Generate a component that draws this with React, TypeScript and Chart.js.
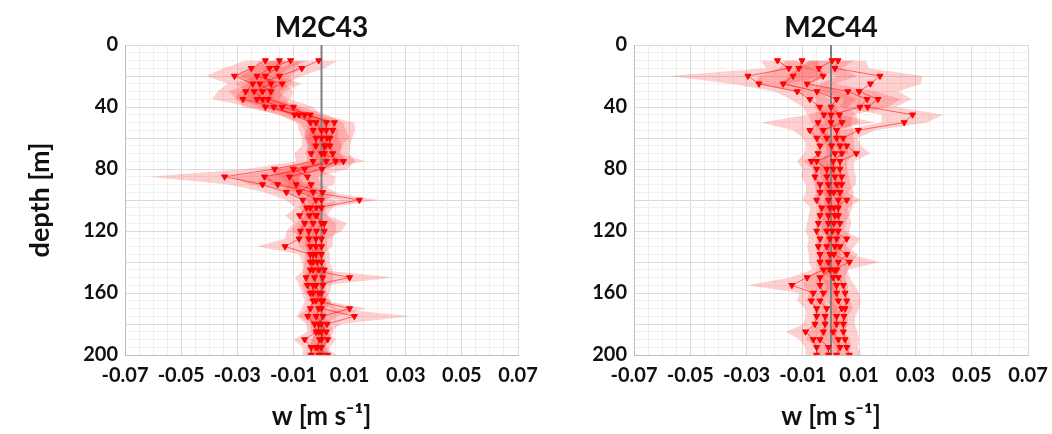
import React, { useEffect, useRef } from "react";
import { Chart, registerables } from "chart.js";

Chart.register(...registerables);

// ---------- data ----------
const DEPTHS = [10, 15, 20, 25, 30, 35, 40, 45, 50, 55, 60, 65, 70, 75, 80, 85, 90, 95, 100, 105, 110, 115, 120, 125, 130, 135, 140, 145, 150, 155, 160, 165, 170, 175, 180, 185, 190, 195, 200];

const X_TICK_LABELS = [-0.07, -0.05, -0.03, -0.01, 0.01, 0.03, 0.05, 0.07];
const Y_TICK_LABELS = [0, 40, 80, 120, 160, 200];

// M2C43 profiles (mean w) and spread
const M2C43_MEAN_1 = [-0.020, -0.025, -0.031, -0.0245, -0.027, -0.028, -0.017, -0.0096, -0.004, -0.003, -0.002, -0.002, -0.0037, -0.003, -0.0167, -0.0345, -0.021, -0.0125, -0.0067, -0.0053, -0.0078, -0.006, -0.0075, -0.008, -0.013, -0.004, -0.004, -0.003, -0.0055, -0.005, -0.004, -0.003, -0.004, -0.0049, -0.0025, -0.0019, -0.006, -0.0037, -0.0037];
const M2C43_MEAN_2 = [-0.011, -0.0185, -0.023, -0.014, -0.021, -0.023, -0.014, -0.004, 0.0017, 0.0017, 0.002, 0.001, 0.001, 0.0017, -0.006, -0.0203, -0.0156, -0.003, 0.0135, -0.0018, -0.0043, -0.003, -0.0045, -0.0045, -0.004, -0.002, -0.0015, -0.001, -0.0025, -0.002, -0.001, 0.0005, -0.001, -0.0019, 0.000, 0.0017, -0.0007, -0.0013, 0.0022];
const M2C43_MEAN_3 = [-0.001, -0.007, -0.015, -0.022, -0.018, -0.019, -0.010, -0.006, 0.0046, 0.004, 0.003, 0.003, 0.004, 0.005, 0.0002, -0.0114, -0.009, 0.0004, -0.002, -0.004, -0.0018, 0.000, -0.0018, -0.002, -0.002, 0.000, 0.000, 0.001, 0.0004, 0.0005, 0.000, -0.002, 0.010, 0.0005, -0.001, -0.001, 0.0022, 0.000, -0.001];
const M2C43_MEAN_4 = [-0.015, -0.016, -0.020, -0.018, -0.024, -0.021, -0.020, -0.008, -0.002, 0.000, 0.000, 0.0015, 0.000, 0.0078, -0.010, -0.005, -0.0037, -0.008, 0.000, 0.000, -0.002, 0.001, 0.001, 0.000, 0.000, -0.003, -0.003, -0.004, 0.010, -0.003, -0.003, 0.000, 0.000, 0.0117, 0.002, 0.000, 0.000, -0.002, 0.000];

const M2C43_STD_1 = [0.007, 0.010, 0.010, 0.009, 0.010, 0.011, 0.008, 0.006, 0.005, 0.005, 0.005, 0.005, 0.006, 0.006, 0.010, 0.027, 0.012, 0.008, 0.006, 0.004, 0.005, 0.004, 0.005, 0.005, 0.010, 0.004, 0.003, 0.003, 0.004, 0.003, 0.003, 0.003, 0.003, 0.004, 0.003, 0.003, 0.004, 0.003, 0.003];
const M2C43_STD_2 = [0.006, 0.007, 0.008, 0.007, 0.008, 0.008, 0.007, 0.006, 0.006, 0.007, 0.008, 0.006, 0.006, 0.007, 0.008, 0.012, 0.010, 0.006, 0.007, 0.004, 0.004, 0.004, 0.004, 0.004, 0.004, 0.003, 0.003, 0.003, 0.004, 0.003, 0.003, 0.003, 0.003, 0.003, 0.003, 0.003, 0.003, 0.003, 0.003];
const M2C43_STD_3 = [0.007, 0.008, 0.008, 0.009, 0.008, 0.008, 0.007, 0.006, 0.007, 0.008, 0.008, 0.007, 0.006, 0.007, 0.009, 0.010, 0.009, 0.005, 0.004, 0.004, 0.004, 0.009, 0.009, 0.004, 0.004, 0.003, 0.003, 0.003, 0.004, 0.003, 0.003, 0.003, 0.006, 0.005, 0.003, 0.003, 0.003, 0.003, 0.003];
const M2C43_STD_4 = [0.007, 0.008, 0.009, 0.008, 0.009, 0.009, 0.008, 0.007, 0.006, 0.006, 0.006, 0.006, 0.006, 0.008, 0.009, 0.010, 0.008, 0.006, 0.005, 0.004, 0.004, 0.004, 0.004, 0.004, 0.004, 0.003, 0.003, 0.003, 0.016, 0.004, 0.003, 0.003, 0.005, 0.020, 0.005, 0.003, 0.003, 0.003, 0.003];

// M2C44 profiles (mean w) and spread
const M2C44_MEAN_1 = [-0.019, -0.015, -0.0295, -0.0256, -0.012, -0.0075, -0.004, -0.0025, -0.0046, -0.0075, -0.005, -0.0039, -0.0046, -0.007, -0.0051, -0.0057, -0.0039, -0.0039, -0.0051, -0.0033, -0.0039, -0.0045, -0.0051, -0.0039, -0.0045, -0.0039, -0.0039, -0.0027, -0.0085, -0.0139, -0.0063, -0.007, -0.0051, -0.0051, -0.0057, -0.009, -0.0063, -0.0051, -0.0051];
const M2C44_MEAN_2 = [-0.0103, -0.0114, -0.0135, -0.017, -0.005, 0.002, 0.000, 0.003, 0.0039, -0.0028, -0.0015, 0.0002, 0.0014, -0.0051, -0.0015, -0.0015, -0.0009, -0.0004, -0.0009, -0.0004, -0.0009, -0.0009, -0.0015, -0.0004, -0.0015, -0.0004, -0.0009, -0.0004, -0.0039, -0.0039, -0.0027, -0.0039, -0.0015, -0.0021, -0.0021, -0.0027, -0.0039, -0.0009, -0.0009];
const M2C44_MEAN_3 = [0.0004, -0.0043, -0.0028, -0.0085, 0.006, 0.0128, 0.0103, 0.000, 0.000, 0.002, 0.002, 0.0032, 0.0038, 0.0008, 0.0008, 0.0014, 0.002, 0.0032, 0.0026, 0.0026, 0.0026, 0.0032, 0.0026, 0.002, 0.0014, 0.0056, 0.0026, 0.002, 0.0008, 0.002, 0.002, 0.0026, 0.0038, 0.002, 0.002, 0.0008, 0.0026, 0.0032, 0.002];
const M2C44_MEAN_4 = [0.0025, 0.0014, 0.0174, 0.014, 0.010, 0.0167, 0.013, 0.029, 0.026, 0.0097, 0.0043, 0.0056, 0.009, 0.0032, 0.0032, 0.0038, 0.0038, 0.001, 0.0056, 0.001, 0.0014, 0.001, 0.0005, 0.0056, 0.0032, 0.001, 0.0065, 0.001, 0.0026, 0.0044, 0.005, 0.0056, 0.005, 0.0046, 0.0044, 0.0044, 0.005, 0.0056, 0.0065];

const M2C44_STD_1 = [0.006, 0.008, 0.028, 0.010, 0.008, 0.007, 0.006, 0.006, 0.020, 0.006, 0.005, 0.005, 0.005, 0.005, 0.005, 0.005, 0.005, 0.005, 0.005, 0.004, 0.004, 0.004, 0.004, 0.004, 0.004, 0.004, 0.004, 0.004, 0.006, 0.016, 0.005, 0.005, 0.004, 0.004, 0.004, 0.007, 0.005, 0.004, 0.004];
const M2C44_STD_2 = [0.006, 0.007, 0.012, 0.010, 0.008, 0.007, 0.006, 0.006, 0.006, 0.006, 0.005, 0.005, 0.005, 0.005, 0.005, 0.005, 0.005, 0.005, 0.005, 0.004, 0.004, 0.004, 0.004, 0.004, 0.004, 0.004, 0.004, 0.004, 0.005, 0.006, 0.005, 0.005, 0.004, 0.004, 0.004, 0.005, 0.005, 0.004, 0.004];
const M2C44_STD_3 = [0.008, 0.008, 0.012, 0.010, 0.010, 0.012, 0.010, 0.008, 0.007, 0.006, 0.006, 0.005, 0.005, 0.005, 0.005, 0.005, 0.005, 0.005, 0.005, 0.005, 0.004, 0.004, 0.004, 0.004, 0.004, 0.004, 0.005, 0.004, 0.004, 0.004, 0.004, 0.004, 0.004, 0.004, 0.004, 0.004, 0.004, 0.004, 0.004];
const M2C44_STD_4 = [0.010, 0.012, 0.015, 0.018, 0.014, 0.012, 0.010, 0.011, 0.008, 0.006, 0.005, 0.005, 0.005, 0.005, 0.005, 0.005, 0.005, 0.005, 0.005, 0.005, 0.005, 0.004, 0.004, 0.005, 0.005, 0.005, 0.011, 0.005, 0.004, 0.004, 0.005, 0.005, 0.005, 0.004, 0.004, 0.005, 0.005, 0.004, 0.004];

// ---------- styling helpers ----------
const FONT = 'Lato, "Open Sans", "DejaVu Sans", sans-serif';
const X_MIN = -0.07, X_MAX = 0.07, X_STEP = 0.005;
const Y_MIN = 0, Y_MAX = 200, Y_STEP = 5;

const near = (a: number, b: number) => Math.abs(a - b) < 1e-6;
const isXLabel = (v: number) => X_TICK_LABELS.some((t) => near(t, v));
const isYLabel = (v: number) => Y_TICK_LABELS.some((t) => near(t, v));

function xGridValues() {
  const out: { value: number }[] = [];
  const n = Math.round((X_MAX - X_MIN) / X_STEP);
  for (let i = 0; i <= n; i++) out.push({ value: +(X_MIN + i * X_STEP).toFixed(4) });
  return out;
}
function yGridValues() {
  const out: { value: number }[] = [];
  const n = Math.round((Y_MAX - Y_MIN) / Y_STEP);
  for (let i = 0; i <= n; i++) out.push({ value: Y_MIN + i * Y_STEP });
  return out;
}

function buildDatasets(means: number[][], stds: number[][]) {
  const ds: any[] = [];
  means.forEach((mean, k) => {
    const std = stds[k];
    ds.push({
      label: `lo${k}`,
      data: DEPTHS.map((d, i) => ({ x: mean[i] - std[i], y: d })),
      borderColor: "transparent",
      borderWidth: 0,
      pointRadius: 0,
      fill: false,
      order: 3,
    });
    ds.push({
      label: `hi${k}`,
      data: DEPTHS.map((d, i) => ({ x: mean[i] + std[i], y: d })),
      borderColor: "transparent",
      borderWidth: 0,
      pointRadius: 0,
      backgroundColor: "rgba(255, 40, 40, 0.22)",
      fill: "-1",
      order: 3,
    });
  });
  ds.push({
    label: "zero",
    data: [
      { x: 0, y: Y_MIN },
      { x: 0, y: Y_MAX },
    ],
    borderColor: "#808080",
    borderWidth: 2,
    pointRadius: 0,
    fill: false,
    order: 2,
  });
  means.forEach((mean, k) => {
    ds.push({
      label: `mean${k}`,
      data: DEPTHS.map((d, i) => ({ x: mean[i], y: d })),
      borderColor: "rgba(255, 0, 0, 0.55)",
      borderWidth: 1,
      pointStyle: "triangle",
      rotation: 180,
      pointRadius: 3.5,
      pointBackgroundColor: "#ff0000",
      pointBorderColor: "#ff0000",
      pointBorderWidth: 1,
      fill: false,
      order: 1,
    });
  });
  return ds;
}

function makeConfig(title: string, means: number[][], stds: number[][], opt: { padLeft: number; padRight: number; yWidth: number; showYTitle: boolean }) {
  return {
    type: "line" as const,
    data: { datasets: buildDatasets(means, stds) },
    options: {
      responsive: false,
      animation: false as const,
      indexAxis: "y" as const,
      layout: { padding: { left: opt.padLeft, right: opt.padRight, top: 0, bottom: 0 } },
      plugins: {
        legend: { display: false },
        tooltip: { enabled: false },
        title: {
          display: true,
          text: title,
          fullSize: false,
          color: "#111",
          font: { family: FONT, size: 28, weight: "bold" as const, lineHeight: 1 },
          padding: { top: 14, bottom: 3 },
        },
      },
      scales: {
        x: {
          type: "linear" as const,
          min: X_MIN,
          max: X_MAX,
          afterBuildTicks: (scale: any) => {
            scale.ticks = xGridValues();
          },
          afterFit: (scale: any) => {
            scale.height = 79;
            scale.paddingLeft = 0;
            scale.paddingRight = 0;
          },
          ticks: {
            autoSkip: false,
            maxRotation: 0,
            minRotation: 0,
            padding: 9,
            color: "#111",
            font: { family: FONT, size: 20, weight: "bold" as const },
            callback: (v: any) => (isXLabel(Number(v)) ? Number(v).toFixed(2) : ""),
          },
          grid: {
            drawTicks: false,
            color: (ctx: any) => (ctx.tick && isXLabel(ctx.tick.value) ? "#dadada" : "#efefef"),
            lineWidth: 1,
          },
          border: { display: true, color: "#bdbdbd", width: 1 },
          title: {
            display: true,
            text: "w [m s\u207B\u00B9]",
            color: "#111",
            font: { family: FONT, size: 26, weight: "bold" as const },
            padding: { top: 0, bottom: 2 },
          },
        },
        y: {
          type: "linear" as const,
          reverse: true,
          min: Y_MIN,
          max: Y_MAX,
          afterBuildTicks: (scale: any) => {
            scale.ticks = yGridValues();
          },
          afterFit: (scale: any) => {
            scale.width = opt.yWidth;
            scale.paddingTop = 0;
            scale.paddingBottom = 0;
          },
          ticks: {
            autoSkip: false,
            padding: 7,
            color: "#111",
            font: { family: FONT, size: 20, weight: "bold" as const },
            callback: (v: any) => (isYLabel(Number(v)) ? String(v) : ""),
          },
          grid: {
            drawTicks: false,
            color: (ctx: any) => (ctx.tick && ctx.tick.value % 20 === 0 ? "#dadada" : "#efefef"),
            lineWidth: 1,
          },
          border: { display: true, color: "#bdbdbd", width: 1 },
          title: {
            display: opt.showYTitle,
            text: "depth [m]",
            color: "#111",
            font: { family: FONT, size: 27, weight: "bold" as const },
            padding: { top: 4, bottom: 0 },
          },
        },
      },
    },
  };
}

function ProfileChart(props: { title: string; means: number[][]; stds: number[][]; left: number; width: number; padLeft: number; padRight: number; yWidth: number; showYTitle: boolean }) {
  const ref = useRef<HTMLCanvasElement | null>(null);
  useEffect(() => {
    if (!ref.current) return;
    const chart = new Chart(ref.current, makeConfig(props.title, props.means, props.stds, props) as any);
    return () => chart.destroy();
  }, []);
  return (
    <canvas
      ref={ref}
      width={props.width}
      height={434}
      style={{ position: "absolute", left: props.left, top: 0, width: props.width, height: 434 }}
    />
  );
}

export default function App() {
  return (
    <div style={{ position: "absolute", left: 0, top: 0, width: 1052, height: 434, background: "#fff", overflow: "hidden" }}>
      <ProfileChart
        title="M2C43"
        means={[M2C43_MEAN_1, M2C43_MEAN_2, M2C43_MEAN_3, M2C43_MEAN_4]}
        stds={[M2C43_STD_1, M2C43_STD_2, M2C43_STD_3, M2C43_STD_4]}
        left={0}
        width={540}
        padLeft={20}
        padRight={22}
        yWidth={105}
        showYTitle={true}
      />
      <ProfileChart
        title="M2C44"
        means={[M2C44_MEAN_1, M2C44_MEAN_2, M2C44_MEAN_3, M2C44_MEAN_4]}
        stds={[M2C44_STD_1, M2C44_STD_2, M2C44_STD_3, M2C44_STD_4]}
        left={540}
        width={512}
        padLeft={0}
        padRight={24}
        yWidth={94}
        showYTitle={false}
      />
    </div>
  );
}
